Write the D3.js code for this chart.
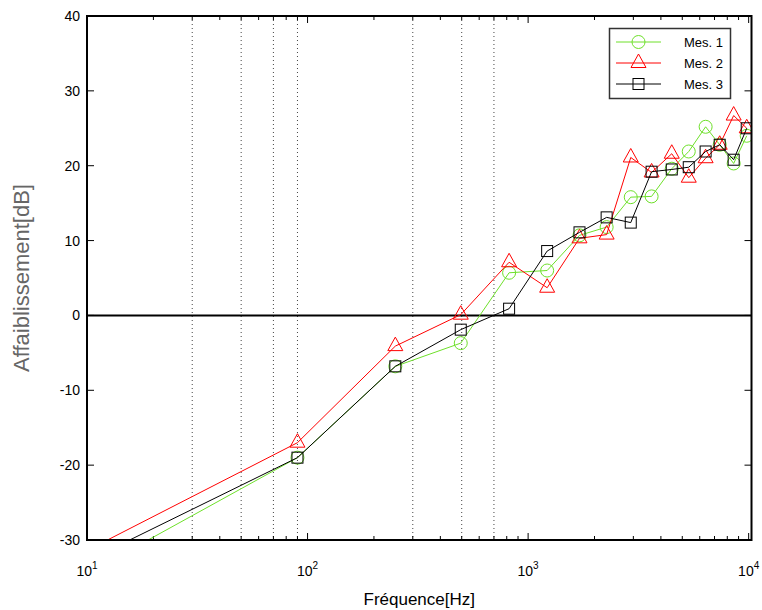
<!DOCTYPE html>
<html><head><meta charset="utf-8">
<script src="https://cdn.jsdelivr.net/npm/d3@7/dist/d3.min.js"></script>
<style>body{margin:0;background:#fff}svg{display:block}text{font-family:"Liberation Sans",Arial,sans-serif}</style>
</head><body><svg id="c" width="762" height="610"></svg>
<script>
const freqs = [10, 90, 250, 495, 820, 1220, 1710, 2270, 2920, 3630, 4480, 5350, 6380, 7390, 8550, 9800];
const greenVals = [-34.5, -19.0, -6.8, -3.7, 5.7, 6.0, 10.7, 11.8, 15.8, 15.9, 19.6, 21.9, 25.2, 22.8, 20.3, 24.0];
const redVals = [-31.4, -17.0, -4.1, 0.1, 7.1, 3.7, 10.3, 10.8, 21.1, 19.1, 21.6, 18.4, 21.0, 22.8, 26.7, 25.0];
const blackVals = [-32.8, -19.0, -6.8, -1.9, 0.9, 8.6, 11.1, 13.1, 12.4, 19.2, 19.5, 19.8, 21.9, 22.8, 20.8, 25.0];
const seriesNames = ["Mes. 1", "Mes. 2", "Mes. 3"];
const gridFreqs = [30, 50, 70, 90, 300, 500, 700];
const xTickExps = [1, 2, 3, 4];
const yTicks = [-30, -20, -10, 0, 10, 20, 30, 40];

const L = 87, R = 751.5, T = 16, B = 540;
const svg = d3.select("#c");
const x = d3.scaleLog().domain([10, 10300]).range([L, R]);
const y = d3.scaleLinear().domain([-30, 40]).range([B, T]);

svg.append("defs").append("clipPath").attr("id", "clip")
  .append("rect").attr("x", L).attr("y", T).attr("width", R - L).attr("height", B - T);

// grid
svg.append("g").selectAll("line").data(gridFreqs).join("line")
  .attr("x1", d => x(d)).attr("x2", d => x(d)).attr("y1", T).attr("y2", B)
  .attr("stroke", "#444").attr("stroke-width", 1).attr("stroke-dasharray", "1,3");

// zero line
svg.append("line").attr("x1", L).attr("x2", R).attr("y1", y(0)).attr("y2", y(0))
  .attr("stroke", "#000").attr("stroke-width", 2);

// ticks
const minor = [];
for (let e = 1; e <= 3; e++) for (let m = 2; m <= 9; m++) minor.push(m * Math.pow(10, e));
const tg = svg.append("g").attr("stroke", "#000").attr("stroke-width", 1);
minor.forEach(f => {
  tg.append("line").attr("x1", x(f)).attr("x2", x(f)).attr("y1", B).attr("y2", B - 4);
  tg.append("line").attr("x1", x(f)).attr("x2", x(f)).attr("y1", T).attr("y2", T + 4);
});
xTickExps.forEach(e => {
  const f = Math.pow(10, e);
  tg.append("line").attr("x1", x(f)).attr("x2", x(f)).attr("y1", B).attr("y2", B - 7);
  tg.append("line").attr("x1", x(f)).attr("x2", x(f)).attr("y1", T).attr("y2", T + 7);
});
yTicks.forEach(v => {
  tg.append("line").attr("x1", L).attr("x2", L + 7).attr("y1", y(v)).attr("y2", y(v));
  tg.append("line").attr("x1", R - 7).attr("x2", R).attr("y1", y(v)).attr("y2", y(v));
});

// tick labels
svg.append("g").selectAll("text").data(yTicks).join("text")
  .attr("x", L - 7).attr("y", d => y(d) + 5).attr("text-anchor", "end")
  .attr("font-size", 14).attr("fill", "#000").text(d => d);
const xl = svg.append("g").selectAll("text").data(xTickExps).join("text")
  .attr("x", d => x(Math.pow(10, d))).attr("y", 576).attr("text-anchor", "middle")
  .attr("font-size", 14).attr("fill", "#000");
xl.append("tspan").text("10");
xl.append("tspan").attr("dy", -7).attr("font-size", 10).text(d => d);

// axis titles
svg.append("text").attr("transform", `translate(29,${(T + B) / 2}) rotate(-90)`)
  .attr("text-anchor", "middle").attr("font-size", 22).attr("fill", "#666").text("Affaiblissement[dB]");
svg.append("text").attr("x", (L + R) / 2).attr("y", 605).attr("text-anchor", "middle")
  .attr("font-size", 17).attr("fill", "#000").text("Fréquence[Hz]");

// series
const series = [
  {vals: greenVals, color: "#6ee02a", shape: "circle"},
  {vals: redVals, color: "#ff0000", shape: "triangle"},
  {vals: blackVals, color: "#000000", shape: "square"}
];
function marker(g, shape, cx, cy, color) {
  if (shape === "circle") g.append("circle").attr("cx", cx).attr("cy", cy).attr("r", 6.5)
    .attr("fill", "none").attr("stroke", color);
  else if (shape === "triangle") g.append("path")
    .attr("d", `M${cx},${cy - 9}L${cx + 7.5},${cy + 4.5}L${cx - 7.5},${cy + 4.5}Z`)
    .attr("fill", "none").attr("stroke", color);
  else g.append("rect").attr("x", cx - 5.5).attr("y", cy - 5.5).attr("width", 11).attr("height", 11)
    .attr("fill", "none").attr("stroke", color);
}
const plot = svg.append("g").attr("clip-path", "url(#clip)");
const line = d3.line().x((d, i) => x(freqs[i])).y(d => y(d));
series.forEach(s => {
  plot.append("path").datum(s.vals).attr("d", line).attr("fill", "none")
    .attr("stroke", s.color).attr("stroke-width", 1);
  s.vals.forEach((v, i) => marker(plot, s.shape, x(freqs[i]), y(v), s.color));
});

// frame
svg.append("rect").attr("x", L).attr("y", T).attr("width", R - L).attr("height", B - T)
  .attr("fill", "none").attr("stroke", "#000").attr("stroke-width", 2);

// legend
const lg = svg.append("g");
lg.append("rect").attr("x", 609.5).attr("y", 28.5).attr("width", 121).attr("height", 70)
  .attr("fill", "#fff").attr("stroke", "#333").attr("stroke-width", 1.5);
series.forEach((s, i) => {
  const ly = 42 + i * 21;
  lg.append("line").attr("x1", 616).attr("x2", 661).attr("y1", ly).attr("y2", ly)
    .attr("stroke", s.color).attr("stroke-width", 1);
  marker(lg, s.shape, 638.5, ly, s.color);
  lg.append("text").attr("x", 723).attr("y", ly + 5).attr("text-anchor", "end")
    .attr("font-size", 13).attr("fill", "#000").text(seriesNames[i]);
});
</script></body></html>
